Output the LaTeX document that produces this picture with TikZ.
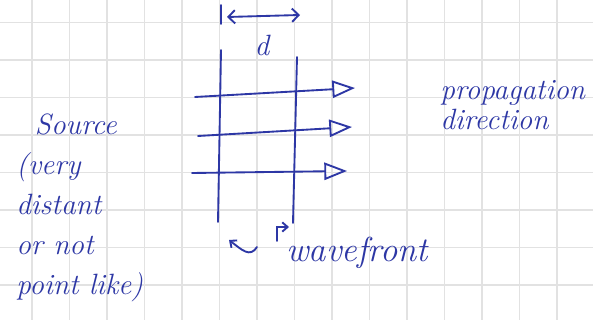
\documentclass[tikz,border=0pt]{standalone}
\usepackage{tikz}
\usetikzlibrary{arrows.meta}
\definecolor{ink}{RGB}{45,55,165}
\definecolor{gridgray}{RGB}{226,226,226}

\begin{document}
\begin{tikzpicture}[x=0.75pt,y=-0.75pt]
        \tikzset{gridline/.style={draw=gridgray, line width=0.9pt},
        inkline/.style={draw=ink, line width=1.4pt, line cap=round},
        ray/.style={inkline, -{Triangle[open,length=17pt,width=13pt]}},
        pointer/.style={inkline, -{Straight Barb[length=4pt,width=7pt]}},
        hand/.style={text=ink, inner sep=0pt, align=left,
          font=\fontsize{22}{30}\selectfont\itshape}}
        \fill[white] (0,0) rectangle (593,320);
        \useasboundingbox (0,0) rectangle (593,320);
        \foreach \gx in {0,...,14}
          \draw[gridline] ({32+37.5*\gx},0) -- ++(0,320);
        \foreach \gy in {0,...,7}
          \draw[gridline] (0,{22.5+37.5*\gy}) -- ++(593,0);
        \coordinate (wfAtop) at (221,5);
        \coordinate (wfAgap) at (221,24);
        \coordinate (wfAa) at (221,50);
        \coordinate (wfAb) at (218,222);
        \coordinate (wfBa) at (297,57);
        \coordinate (wfBb) at (293,223);
        \draw[inkline] (wfAtop) -- (wfAgap);
        \draw[inkline] (wfAa) -- (wfAb);
        \draw[inkline] (wfBa) -- (wfBb);
        \coordinate (dL) at (227,17);
        \coordinate (dR) at (300,15);
        \draw[inkline, {Straight Barb[length=5pt,width=10pt]}-{Straight Barb[length=5pt,width=10pt]}] (dL) -- (dR);
        \node[hand, anchor=base] (dist) at (262,56) {d};
        \coordinate (rayAs) at (195,97);
        \coordinate (rayAe) at (355,88);
        \coordinate (rayBs) at (198,136);
        \coordinate (rayBe) at (352,127);
        \coordinate (rayCs) at (192,173);
        \coordinate (rayCe) at (347,171);
        \draw[ray] (rayAs) -- (rayAe);
        \draw[ray] (rayBs) -- (rayBe);
        \draw[ray] (rayCs) -- (rayCe);
        \node[hand, anchor=north west] (source) at (16,114)
          {\hspace{14pt}Source\\(very\\distant\\or not\\point like)};
        \node[hand, anchor=north west, font=\fontsize{22}{23}\selectfont\itshape] (propdir) at (440,80)
          {propagation\\direction};
        \node[hand, anchor=base west, font=\fontsize{26}{30}\selectfont\itshape] (wavefront) at (286,262) {wavefront};
        \coordinate (ptAs) at (257,247);
        \coordinate (ptAe) at (229,240);
        \coordinate (ptBs) at (277,241);
        \coordinate (ptBe) at (289,227);
        \draw[pointer] (ptAs) .. controls (250,258) and (242,250) .. (ptAe);
        \draw[pointer] (ptBs) |- (ptBe);
\end{tikzpicture}
\end{document}
